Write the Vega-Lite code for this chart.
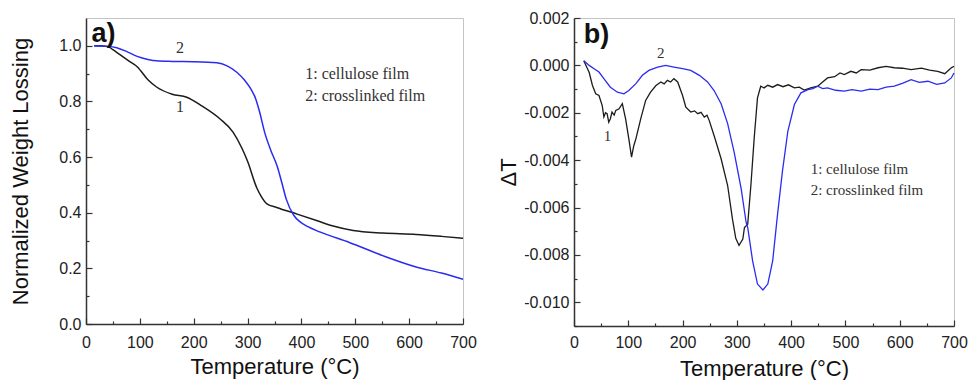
{
  "$schema": "https://vega.github.io/schema/vega-lite/v6.json",
  "padding": {"left": 9, "top": 9, "right": 0, "bottom": 0},
  "background": "white",
  "datasets": {
    "tga": [
      {"T": 15, "w": 1.0, "s": "1"}, {"T": 40, "w": 0.998, "s": "1"}, {"T": 50, "w": 0.986, "s": "1"}, {"T": 63, "w": 0.968, "s": "1"}, {"T": 80, "w": 0.945, "s": "1"}, {"T": 95, "w": 0.925, "s": "1"}, {"T": 115, "w": 0.878, "s": "1"}, {"T": 131, "w": 0.852, "s": "1"}, {"T": 160, "w": 0.826, "s": "1"}, {"T": 187, "w": 0.815, "s": "1"}, {"T": 215, "w": 0.784, "s": "1"}, {"T": 249, "w": 0.737, "s": "1"}, {"T": 273, "w": 0.69, "s": "1"}, {"T": 290, "w": 0.63, "s": "1"}, {"T": 300, "w": 0.585, "s": "1"}, {"T": 317, "w": 0.49, "s": "1"}, {"T": 325, "w": 0.46, "s": "1"}, {"T": 336, "w": 0.432, "s": "1"}, {"T": 354, "w": 0.419, "s": "1"}, {"T": 392, "w": 0.395, "s": "1"}, {"T": 428, "w": 0.372, "s": "1"}, {"T": 459, "w": 0.352, "s": "1"}, {"T": 496, "w": 0.336, "s": "1"}, {"T": 552, "w": 0.327, "s": "1"}, {"T": 613, "w": 0.322, "s": "1"}, {"T": 660, "w": 0.315, "s": "1"}, {"T": 700, "w": 0.308, "s": "1"},
      {"T": 15, "w": 1.0, "s": "2"}, {"T": 40, "w": 0.998, "s": "2"}, {"T": 57, "w": 0.993, "s": "2"}, {"T": 75, "w": 0.98, "s": "2"}, {"T": 95, "w": 0.962, "s": "2"}, {"T": 115, "w": 0.951, "s": "2"}, {"T": 131, "w": 0.946, "s": "2"}, {"T": 160, "w": 0.944, "s": "2"}, {"T": 199, "w": 0.943, "s": "2"}, {"T": 243, "w": 0.939, "s": "2"}, {"T": 262, "w": 0.928, "s": "2"}, {"T": 280, "w": 0.905, "s": "2"}, {"T": 295, "w": 0.875, "s": "2"}, {"T": 306, "w": 0.845, "s": "2"}, {"T": 315, "w": 0.81, "s": "2"}, {"T": 322, "w": 0.765, "s": "2"}, {"T": 332, "w": 0.687, "s": "2"}, {"T": 343, "w": 0.625, "s": "2"}, {"T": 355, "w": 0.567, "s": "2"}, {"T": 364, "w": 0.505, "s": "2"}, {"T": 372, "w": 0.448, "s": "2"}, {"T": 386, "w": 0.39, "s": "2"}, {"T": 397, "w": 0.368, "s": "2"}, {"T": 412, "w": 0.35, "s": "2"}, {"T": 434, "w": 0.331, "s": "2"}, {"T": 489, "w": 0.293, "s": "2"}, {"T": 552, "w": 0.245, "s": "2"}, {"T": 613, "w": 0.205, "s": "2"}, {"T": 660, "w": 0.183, "s": "2"}, {"T": 700, "w": 0.161, "s": "2"}
    ],
    "dta": [
      {"T": 18, "d": 0.0002, "s": "1"}, {"T": 24, "d": -0.0001, "s": "1"}, {"T": 28, "d": -0.0003, "s": "1"}, {"T": 34, "d": -0.00085, "s": "1"}, {"T": 40, "d": -0.0012, "s": "1"}, {"T": 46, "d": -0.00127, "s": "1"}, {"T": 52, "d": -0.0017, "s": "1"}, {"T": 55, "d": -0.00218, "s": "1"}, {"T": 58, "d": -0.002, "s": "1"}, {"T": 61, "d": -0.00204, "s": "1"}, {"T": 64, "d": -0.0024, "s": "1"}, {"T": 67, "d": -0.00225, "s": "1"}, {"T": 70, "d": -0.00197, "s": "1"}, {"T": 74, "d": -0.0021, "s": "1"}, {"T": 77, "d": -0.0019, "s": "1"}, {"T": 83, "d": -0.00183, "s": "1"}, {"T": 89, "d": -0.00162, "s": "1"}, {"T": 95, "d": -0.00225, "s": "1"}, {"T": 101, "d": -0.0031, "s": "1"}, {"T": 106, "d": -0.00387, "s": "1"}, {"T": 110, "d": -0.0034, "s": "1"}, {"T": 114, "d": -0.0031, "s": "1"}, {"T": 123, "d": -0.00225, "s": "1"}, {"T": 132, "d": -0.00148, "s": "1"}, {"T": 141, "d": -0.00113, "s": "1"}, {"T": 151, "d": -0.00085, "s": "1"}, {"T": 160, "d": -0.0007, "s": "1"}, {"T": 166, "d": -0.00078, "s": "1"}, {"T": 172, "d": -0.00063, "s": "1"}, {"T": 178, "d": -0.0007, "s": "1"}, {"T": 184, "d": -0.00056, "s": "1"}, {"T": 191, "d": -0.0007, "s": "1"}, {"T": 200, "d": -0.00127, "s": "1"}, {"T": 206, "d": -0.00176, "s": "1"}, {"T": 215, "d": -0.00197, "s": "1"}, {"T": 222, "d": -0.00192, "s": "1"}, {"T": 228, "d": -0.00204, "s": "1"}, {"T": 234, "d": -0.00198, "s": "1"}, {"T": 240, "d": -0.00218, "s": "1"}, {"T": 245, "d": -0.0021, "s": "1"}, {"T": 249, "d": -0.00232, "s": "1"}, {"T": 258, "d": -0.00296, "s": "1"}, {"T": 271, "d": -0.00394, "s": "1"}, {"T": 283, "d": -0.00507, "s": "1"}, {"T": 292, "d": -0.0065, "s": "1"}, {"T": 298, "d": -0.0073, "s": "1"}, {"T": 304, "d": -0.0076, "s": "1"}, {"T": 311, "d": -0.00733, "s": "1"}, {"T": 314, "d": -0.00684, "s": "1"}, {"T": 320, "d": -0.0067, "s": "1"}, {"T": 326, "d": -0.00502, "s": "1"}, {"T": 332, "d": -0.00305, "s": "1"}, {"T": 338, "d": -0.00137, "s": "1"}, {"T": 344, "d": -0.00088, "s": "1"}, {"T": 350, "d": -0.00095, "s": "1"}, {"T": 357, "d": -0.00084, "s": "1"}, {"T": 366, "d": -0.00092, "s": "1"}, {"T": 375, "d": -0.00081, "s": "1"}, {"T": 385, "d": -0.0009, "s": "1"}, {"T": 395, "d": -0.00082, "s": "1"}, {"T": 406, "d": -0.00095, "s": "1"}, {"T": 415, "d": -0.00092, "s": "1"}, {"T": 424, "d": -0.00104, "s": "1"}, {"T": 436, "d": -0.00095, "s": "1"}, {"T": 449, "d": -0.00088, "s": "1"}, {"T": 458, "d": -0.0007, "s": "1"}, {"T": 467, "d": -0.00053, "s": "1"}, {"T": 480, "d": -0.00048, "s": "1"}, {"T": 490, "d": -0.00032, "s": "1"}, {"T": 498, "d": -0.00039, "s": "1"}, {"T": 510, "d": -0.00025, "s": "1"}, {"T": 520, "d": -0.00032, "s": "1"}, {"T": 529, "d": -0.00018, "s": "1"}, {"T": 545, "d": -0.0002, "s": "1"}, {"T": 560, "d": -0.0001, "s": "1"}, {"T": 575, "d": -0.00004, "s": "1"}, {"T": 590, "d": -0.0001, "s": "1"}, {"T": 605, "d": -0.00012, "s": "1"}, {"T": 621, "d": -0.00018, "s": "1"}, {"T": 640, "d": -0.00012, "s": "1"}, {"T": 655, "d": -0.0002, "s": "1"}, {"T": 670, "d": -0.00025, "s": "1"}, {"T": 683, "d": -0.00035, "s": "1"}, {"T": 695, "d": -0.0001, "s": "1"}, {"T": 700, "d": -0.00004, "s": "1"},
      {"T": 18, "d": 0.0002, "s": "2"}, {"T": 28, "d": 0.0, "s": "2"}, {"T": 37, "d": -0.00014, "s": "2"}, {"T": 46, "d": -0.00028, "s": "2"}, {"T": 55, "d": -0.00056, "s": "2"}, {"T": 67, "d": -0.00092, "s": "2"}, {"T": 80, "d": -0.00113, "s": "2"}, {"T": 92, "d": -0.0012, "s": "2"}, {"T": 101, "d": -0.00106, "s": "2"}, {"T": 114, "d": -0.00077, "s": "2"}, {"T": 126, "d": -0.00042, "s": "2"}, {"T": 138, "d": -0.00021, "s": "2"}, {"T": 154, "d": -0.00007, "s": "2"}, {"T": 169, "d": 0.0, "s": "2"}, {"T": 184, "d": -0.00007, "s": "2"}, {"T": 200, "d": -0.00014, "s": "2"}, {"T": 215, "d": -0.00021, "s": "2"}, {"T": 231, "d": -0.00042, "s": "2"}, {"T": 246, "d": -0.0007, "s": "2"}, {"T": 258, "d": -0.00106, "s": "2"}, {"T": 271, "d": -0.00162, "s": "2"}, {"T": 283, "d": -0.00246, "s": "2"}, {"T": 295, "d": -0.00366, "s": "2"}, {"T": 308, "d": -0.00521, "s": "2"}, {"T": 317, "d": -0.00662, "s": "2"}, {"T": 320, "d": -0.00684, "s": "2"}, {"T": 329, "d": -0.00825, "s": "2"}, {"T": 338, "d": -0.00923, "s": "2"}, {"T": 348, "d": -0.00948, "s": "2"}, {"T": 357, "d": -0.00923, "s": "2"}, {"T": 366, "d": -0.00825, "s": "2"}, {"T": 375, "d": -0.00628, "s": "2"}, {"T": 384, "d": -0.00446, "s": "2"}, {"T": 394, "d": -0.00277, "s": "2"}, {"T": 406, "d": -0.00165, "s": "2"}, {"T": 418, "d": -0.00116, "s": "2"}, {"T": 431, "d": -0.00102, "s": "2"}, {"T": 440, "d": -0.00098, "s": "2"}, {"T": 449, "d": -0.00088, "s": "2"}, {"T": 458, "d": -0.00098, "s": "2"}, {"T": 467, "d": -0.00095, "s": "2"}, {"T": 482, "d": -0.00105, "s": "2"}, {"T": 498, "d": -0.00109, "s": "2"}, {"T": 512, "d": -0.00102, "s": "2"}, {"T": 529, "d": -0.00109, "s": "2"}, {"T": 545, "d": -0.001, "s": "2"}, {"T": 560, "d": -0.00102, "s": "2"}, {"T": 575, "d": -0.00092, "s": "2"}, {"T": 590, "d": -0.00088, "s": "2"}, {"T": 606, "d": -0.00075, "s": "2"}, {"T": 621, "d": -0.0006, "s": "2"}, {"T": 636, "d": -0.00072, "s": "2"}, {"T": 652, "d": -0.00067, "s": "2"}, {"T": 668, "d": -0.0008, "s": "2"}, {"T": 683, "d": -0.00074, "s": "2"}, {"T": 695, "d": -0.00053, "s": "2"}, {"T": 700, "d": -0.00032, "s": "2"}
    ],
    "annA": [
      {"T": 407, "w": 0.9, "label": "1: cellulose film"},
      {"T": 407, "w": 0.82, "label": "2: crosslinked film"},
      {"T": 167, "w": 0.993, "label": "2"},
      {"T": 167, "w": 0.781, "label": "1"}
    ],
    "annB": [
      {"T": 436, "d": -0.00436, "label": "1: cellulose film"},
      {"T": 436, "d": -0.00524, "label": "2: crosslinked film"},
      {"T": 153, "d": 0.00053, "label": "2"},
      {"T": 55, "d": -0.00297, "label": "1"}
    ],
    "panA": [{"T": 10, "w": 1.043, "label": "a)"}],
    "panB": [{"T": 18, "d": 0.00128, "label": "b)"}]
  },
  "hconcat": [
    {
      "width": 377,
      "height": 306,
      "resolve": {"axis": {"x": "independent", "y": "independent"}},
      "layer": [
        {
          "data": {"name": "tga"},
          "transform": [{"filter": "datum.s == '1'"}],
          "mark": {"type": "line", "color": "#1c1c1c", "strokeWidth": 1.5, "interpolate": "monotone"},
          "encoding": {
            "x": {"field": "T", "type": "quantitative", "scale": {"domain": [0, 700], "nice": false, "zero": false},
                  "axis": {"orient": "bottom", "values": [0, 100, 200, 300, 400, 500, 600, 700], "title": "Temperature (°C)", "tickSize": -6, "labelPadding": 16, "titlePadding": 6}},
            "y": {"field": "w", "type": "quantitative", "scale": {"domain": [0, 1.1], "nice": false, "zero": false},
                  "axis": {"orient": "left", "values": [0, 0.2, 0.4, 0.6, 0.8, 1.0], "format": ".1f", "title": "Normalized Weight Lossing", "tickSize": -6, "labelPadding": 11, "titlePadding": 26}}
          }
        },
        {
          "data": {"name": "tga"},
          "transform": [{"filter": "datum.s == '2'"}],
          "mark": {"type": "line", "color": "#2b2bf2", "strokeWidth": 1.5, "interpolate": "monotone"},
          "encoding": {
            "x": {"field": "T", "type": "quantitative", "axis": {"orient": "bottom", "values": [50, 150, 250, 350, 450, 550, 650], "labels": false, "domain": false, "tickSize": -3, "title": null}},
            "y": {"field": "w", "type": "quantitative", "axis": {"orient": "left", "values": [0.1, 0.3, 0.5, 0.7, 0.9], "labels": false, "domain": false, "tickSize": -3, "title": null}}
          }
        },
        {
          "data": {"name": "annA"},
          "mark": {"type": "text", "font": "Liberation Serif", "fontSize": 16, "color": "#333", "align": "left", "baseline": "middle"},
          "encoding": {
            "x": {"field": "T", "type": "quantitative", "axis": null},
            "y": {"field": "w", "type": "quantitative", "axis": null},
            "text": {"field": "label"}
          }
        },
        {
          "data": {"name": "panA"},
          "mark": {"type": "text", "font": "Liberation Sans", "fontSize": 27, "fontWeight": "bold", "color": "#111", "align": "left", "baseline": "middle"},
          "encoding": {
            "x": {"field": "T", "type": "quantitative", "axis": null},
            "y": {"field": "w", "type": "quantitative", "axis": null},
            "text": {"field": "label"}
          }
        }
      ]
    },
    {
      "width": 380,
      "height": 308,
      "resolve": {"axis": {"x": "independent", "y": "independent"}},
      "layer": [
        {
          "data": {"name": "dta"},
          "transform": [{"filter": "datum.s == '1'"}],
          "mark": {"type": "line", "color": "#1c1c1c", "strokeWidth": 1.3},
          "encoding": {
            "x": {"field": "T", "type": "quantitative", "scale": {"domain": [0, 700], "nice": false, "zero": false},
                  "axis": {"orient": "bottom", "values": [0, 100, 200, 300, 400, 500, 600, 700], "title": "Temperature (°C)", "tickSize": -6, "labelPadding": 14, "titlePadding": 8}},
            "y": {"field": "d", "type": "quantitative", "scale": {"domain": [-0.011, 0.002], "nice": false, "zero": false},
                  "axis": {"orient": "left", "values": [-0.01, -0.008, -0.006, -0.004, -0.002, 0, 0.002], "labelExpr": "replace(format(datum.value, '.3f'), '−', '-')", "title": "ΔT", "tickSize": -6, "labelPadding": 11, "titlePadding": 3}}
          }
        },
        {
          "data": {"name": "dta"},
          "transform": [{"filter": "datum.s == '2'"}],
          "mark": {"type": "line", "color": "#2b2bf2", "strokeWidth": 1.3},
          "encoding": {
            "x": {"field": "T", "type": "quantitative", "axis": {"orient": "bottom", "values": [50, 150, 250, 350, 450, 550, 650], "labels": false, "domain": false, "tickSize": -3, "title": null}},
            "y": {"field": "d", "type": "quantitative", "axis": {"orient": "left", "values": [-0.011, -0.009, -0.007, -0.005, -0.003, -0.001, 0.001], "labels": false, "domain": false, "tickSize": -3, "title": null}}
          }
        },
        {
          "data": {"name": "annB"},
          "mark": {"type": "text", "font": "Liberation Serif", "fontSize": 15, "color": "#333", "align": "left", "baseline": "middle"},
          "encoding": {
            "x": {"field": "T", "type": "quantitative", "axis": null},
            "y": {"field": "d", "type": "quantitative", "axis": null},
            "text": {"field": "label"}
          }
        },
        {
          "data": {"name": "panB"},
          "mark": {"type": "text", "font": "Liberation Sans", "fontSize": 27, "fontWeight": "bold", "color": "#111", "align": "left", "baseline": "middle"},
          "encoding": {
            "x": {"field": "T", "type": "quantitative", "axis": null},
            "y": {"field": "d", "type": "quantitative", "axis": null},
            "text": {"field": "label"}
          }
        }
      ]
    }
  ],
  "spacing": 20,
  "config": {
    "view": {"stroke": "#c4c4c4", "strokeWidth": 1},
    "axis": {
      "grid": false,
      "labelFlush": false,
      "labelOverlap": false,
      "domainColor": "#333",
      "domainWidth": 1.5,
      "tickColor": "#333",
      "tickWidth": 1.2,
      "labelFont": "Liberation Sans",
      "labelFontSize": 16,
      "labelColor": "#222",
      "titleFont": "Liberation Sans",
      "titleFontSize": 22,
      "titleFontWeight": "normal",
      "titleColor": "#111"
    }
  }
}
